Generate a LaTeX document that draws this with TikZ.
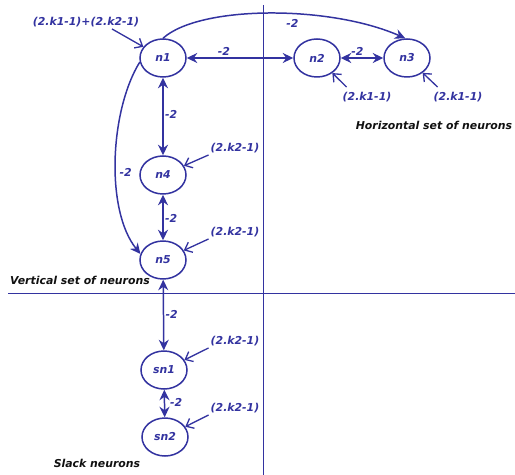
\documentclass[tikz,border=0pt]{standalone}
\usepackage{fontspec}
\setsansfont{DejaVu Sans}
\usetikzlibrary{positioning,arrows.meta,shapes.geometric}
\definecolor{wire}{HTML}{3333A0}
\definecolor{ink}{HTML}{111111}

\begin{document}
\begin{tikzpicture}[
  font=\sffamily\bfseries\itshape\fontsize{6.2}{7.4}\selectfont,
  >={Stealth[length=2.1mm,width=2mm]},
  neuron/.style={ellipse,draw=wire,line width=0.85pt,minimum width=9.2mm,minimum height=7.6mm,inner sep=0pt,text=wire},
  link/.style={wire,line width=0.85pt},
  feed/.style={wire,line width=0.75pt,-{Straight Barb[length=1.3mm,width=2.2mm]}},
  rule/.style={wire,line width=0.5pt},
  bias/.style={text=wire,inner sep=1pt},
  wt/.style={text=wire,inner sep=0.8pt},
  setlbl/.style={text=ink,inner sep=1pt},
]
\useasboundingbox (0,0) rectangle (10.3,-9.5);

%================================================================ QUADRANTS ===
\draw[rule] (5.26,-0.1) -- (5.26,-9.5);
\draw[rule] (0.16,-5.86) -- (10.3,-5.86);

%================================================================== NEURONS ===
\node[neuron] (n1)  at (3.26,-1.16) {n1};
\node[neuron] (n2)  at (6.34,-1.16) {n2};
\node[neuron] (n3)  at (8.14,-1.16) {n3};
\node[neuron] (n4)  at (3.26,-3.50) {n4};
\node[neuron] (n5)  at (3.26,-5.20) {n5};
\node[neuron] (sn1) at (3.28,-7.40) {sn1};
\node[neuron] (sn2) at (3.30,-8.74) {sn2};

% biases
\node[bias] (b1)  at (1.72,-0.44) {(2.k1-1)+(2.k2-1)};
\node[bias] (b2)  at (7.34,-1.94) {(2.k1-1)};
\node[bias] (b3)  at (9.16,-1.94) {(2.k1-1)};
\node[bias] (b4)  at (4.70,-2.96) {(2.k2-1)};
\node[bias] (b5)  at (4.70,-4.64) {(2.k2-1)};
\node[bias] (bs1) at (4.70,-6.82) {(2.k2-1)};
\node[bias] (bs2) at (4.70,-8.16) {(2.k2-1)};

\draw[feed] (b1.-15) -- (n1);
\draw[feed] ([xshift=1.2mm,yshift=0.6mm]b2.north west) -- (n2);
\draw[feed] ([xshift=1.2mm,yshift=0.6mm]b3.north west) -- (n3);
\draw[feed] (b4.south west) -- (n4);
\draw[feed] (b5.south west) -- (n5);
\draw[feed] (bs1.south west) -- (sn1);
\draw[feed] (bs2.south west) -- (sn2);

%================================================================== WEIGHTS ===
\draw[link,<->] (n1) -- node[wt,above,pos=0.35]{-2} (n2);
\draw[link,<->] (n2) -- node[wt,above,pos=0.39]{-2} (n3);
\draw[link,<->] (n1) -- node[wt,right,pos=0.47]{-2} (n4);
\draw[link,<->] (n4) -- node[wt,right,pos=0.53]{-2} (n5);
\draw[link,<->] (n5) -- node[wt,right,pos=0.49]{-2} (sn1);
\draw[link,<->] (sn1) -- node[wt,right=2pt,pos=0.48]{-2} (sn2);

\draw[link,->] (n1.north) .. controls (4.0,-0.1) and (6.6,-0.1) ..
  node[wt,pos=0.58,below=2pt]{-2} (n3.95);
\draw[link,->] (n1.190) .. controls (2.2,-2.2) and (2.1,-4.2) ..
  node[wt,pos=0.56,right=1pt]{-2} (n5.165);

%================================================================= SET NAMES ===
\node[setlbl] (hset) at (8.68,-2.50) {Horizontal set of neurons};
\node[setlbl] (vset) at (1.60,-5.60) {Vertical set of neurons};
\node[setlbl] (sset) at (1.94,-9.26) {Slack neurons};

\end{tikzpicture}
\end{document}
